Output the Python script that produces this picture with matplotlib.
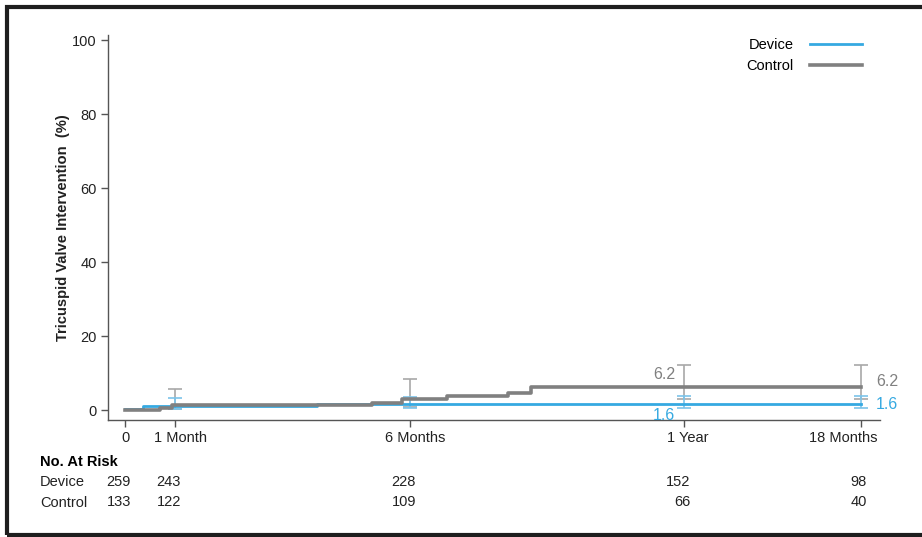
import numpy as np
import matplotlib
matplotlib.use("Agg")
import matplotlib.pyplot as plt
import matplotlib.transforms as mtransforms
from matplotlib.patches import Rectangle

plt.rcParams['font.family'] = ['Liberation Sans', 'DejaVu Sans']

# ---- data (time in months) ----
device_t = [0, 0.36, 4.02, 18]
device_v = [0.4, 1.2, 1.6, 1.6]
control_t = [0, 0.70, 0.94, 5.19, 5.83, 6.81, 8.14, 8.64, 18]
control_v = [0.0, 0.6, 1.3, 2.0, 2.9, 3.8, 4.7, 6.2, 6.2]

# confidence intervals at landmark times
ci_times = [1, 6, 12, 18]
device_lo = [0.2, 0.5, 0.5, 0.5]
device_hi = [3.2, 3.6, 3.8, 3.8]
control_lo = [0.2, 0.7, 2.9, 2.9]
control_hi = [5.7, 8.4, 12.3, 12.3]

tick_months = [0, 1, 6, 12, 18]
tick_labels = ["0", "1 Month", "6 Months", "1 Year", "18 Months"]
risk_device = [259, 243, 228, 152, 98]
risk_control = [133, 122, 109, 66, 40]

blue = "#35a9e1"
grey = "#808080"
blue_ci = "#7cc4ea"
grey_ci = "#a8a8a8"

# the printed time axis is not linear; map months to axis position
anchor_m = np.array([-1, 0, 1, 6, 12, 18, 19], dtype=float)
anchor_p = np.array([75, 125, 175, 410, 684, 861, 890.5])


def fwd(x):
    return np.interp(x, anchor_m, anchor_p)


def inv(p):
    return np.interp(p, anchor_p, anchor_m)


fig = plt.figure(figsize=(9.22, 5.37), dpi=100)
ax = fig.add_axes([108 / 922, 117 / 537, 772 / 922, 384.8 / 537])
ax.set_xscale('function', functions=(fwd, inv))

ax.step(device_t, device_v, where='post', color=blue, lw=2.0, zorder=3, label="Device")
ax.step(control_t, control_v, where='post', color=grey, lw=2.6, zorder=4, label="Control")

ax.errorbar(ci_times, [(a + b) / 2 for a, b in zip(control_lo, control_hi)],
            yerr=[np.array(control_hi) - (np.array(control_lo) + np.array(control_hi)) / 2] * 2,
            fmt='none', ecolor=grey_ci, elinewidth=1.2, capsize=5, capthick=1.2, zorder=2)
ax.errorbar(ci_times, [(a + b) / 2 for a, b in zip(device_lo, device_hi)],
            yerr=[np.array(device_hi) - (np.array(device_lo) + np.array(device_hi)) / 2] * 2,
            fmt='none', ecolor=blue_ci, elinewidth=1.2, capsize=5, capthick=1.2, zorder=2)

ax.set_xlim(-0.34, 18.64)
ax.set_ylim(-2.7, 101.3)
ax.set_yticks([0, 20, 40, 60, 80, 100])
ax.set_xticks(tick_months)
ax.set_xticklabels(tick_labels)
ax.tick_params(axis='both', direction='out', length=5, width=1, color='#555555',
               labelsize=10.5, labelcolor='#222222', pad=3)
# the printed labels sit a little off their ticks
for lbl, dx in zip(ax.get_xticklabels(), [0, 5, 5, 4, -18]):
    lbl.set_transform(lbl.get_transform() +
                      mtransforms.ScaledTranslation(dx / 100, 0, fig.dpi_scale_trans))
for s in ['top', 'right']:
    ax.spines[s].set_visible(False)
for s in ['left', 'bottom']:
    ax.spines[s].set_color('#555555')
    ax.spines[s].set_linewidth(1.0)

ax.set_ylabel("Tricuspid Valve Intervention  (%)", fontsize=10.6, fontweight='bold',
              color='#222222', labelpad=1.5)

# end-point labels
ax.text(11.8, 9.5, "6.2", color=grey, fontsize=11.5, ha='right', va='center')
ax.text(11.8, -1.6, "1.6", color=blue, fontsize=11.5, ha='right', va='center')
ax.text(18.5, 7.6, "6.2", color=grey, fontsize=11.5, ha='left', va='center')
ax.text(18.5, 1.6, "1.6", color=blue, fontsize=11.5, ha='left', va='center')

leg = ax.legend(loc='upper right', bbox_to_anchor=(0.9767, 0.992), frameon=False,
                markerfirst=False, handlelength=3.6, handletextpad=1.1,
                labelspacing=0.45, borderpad=0, borderaxespad=0, fontsize=10.5)

# number at risk table
offset = mtransforms.ScaledTranslation(6 / 100, 0, fig.dpi_scale_trans)
trans = mtransforms.blended_transform_factory(ax.transData, fig.transFigure) + offset
fig.text(40 / 922, 1 - 462 / 537, "No. At Risk", fontsize=10.5, fontweight='bold',
         va='center', ha='left')
fig.text(40 / 922, 1 - 482 / 537, "Device", fontsize=10.5, va='center', ha='left', color='#222222')
fig.text(40 / 922, 1 - 503 / 537, "Control", fontsize=10.5, va='center', ha='left', color='#222222')
for m, d, c in zip(tick_months, risk_device, risk_control):
    ax.text(m, 1 - 482 / 537, str(d), transform=trans, fontsize=10.5, ha='right',
            va='center', color='#222222', clip_on=False)
    ax.text(m, 1 - 502 / 537, str(c), transform=trans, fontsize=10.5, ha='right',
            va='center', color='#222222', clip_on=False)

# dark frame around the figure
fig.patches.append(Rectangle((7 / 922, 2 / 537), 1.05, 528 / 537, transform=fig.transFigure,
                             fill=False, edgecolor='#1e1e1e', lw=3, clip_on=False))

fig.savefig("out.png", dpi=100)
